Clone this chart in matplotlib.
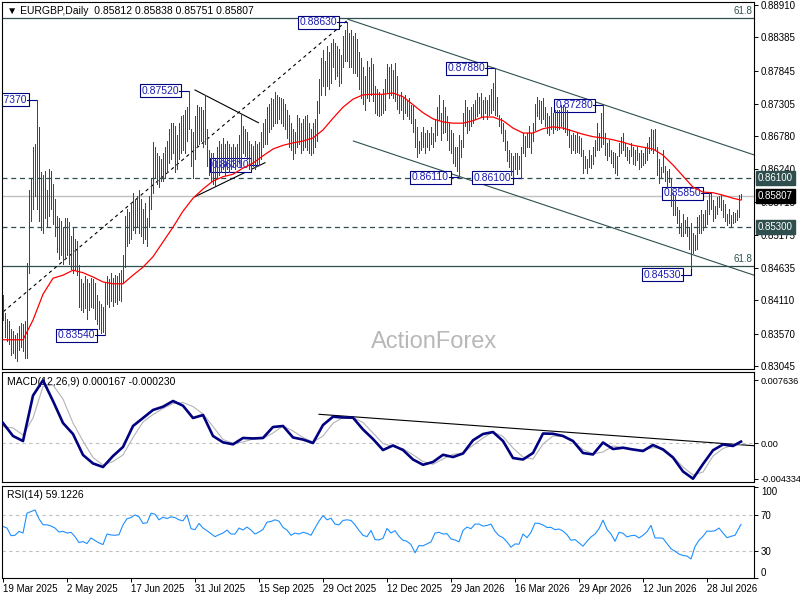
import numpy as np
import matplotlib
matplotlib.use("Agg")
import matplotlib.pyplot as plt

plt.rcParams["font.family"] = ["Liberation Sans", "DejaVu Sans"]

# ---------------- data ----------------
symbol = "EURGBP,Daily"
last_open = 0.85812

highs = [
    .8420, .8390, .8380, .8378, .8365, .8362, .8355, .8358, .8370, .8375,
    .8372, .8378, .8472, .8590, .8610, .8660, .8665, .8737, .8693, .8620,
    .8615, .8622, .8590, .8625, .8622, .8600, .8575, .8548, .8545, .8540,
    .8530, .8545, .8545, .8538, .8515, .8530, .8510, .8508, .8468, .8445,
    .8440, .8450, .8445, .8440, .8448, .8445, .8440, .8420, .8410, .8405,
    .8400, .8440, .8450, .8445, .8455, .8448, .8452, .8450, .8455, .8460,
    .8485, .8548, .8560, .8555, .8570, .8585, .8575, .8580, .8590, .8575,
    .8560, .8570, .8545, .8580, .8610, .8668, .8660, .8650, .8645, .8640,
    .8650, .8660, .8670, .8690, .8700, .8700, .8695, .8680, .8700, .8710,
    .8712, .8720, .8725, .8752, .8690, .8685, .8710, .8728, .8725, .8725,
    .8720, .8745, .8690, .8655, .8650, .8650, .8640, .8660, .8670, .8665,
    .8675, .8665, .8670, .8665, .8660, .8665, .8660, .8665, .8680, .8712,
    .8695, .8690, .8685, .8670, .8665, .8662, .8670, .8665, .8668, .8685,
    .8700, .8705, .8725, .8730, .8740, .8738, .8750, .8745, .8742, .8740,
    .8738, .8730, .8720, .8712, .8700, .8690, .8685, .8712, .8708, .8700,
    .8705, .8710, .8712, .8700, .8690, .8700, .8705, .8735, .8770, .8805,
    .8818, .8800, .8825, .8815, .8830, .8835, .8830, .8825, .8820, .8810,
    .8840, .8850, .8863, .8845, .8850, .8840, .8845, .8835, .8815, .8805,
    .8790, .8775, .8800, .8790, .8805, .8795, .8760, .8755, .8750, .8745,
    .8755, .8770, .8795, .8790, .8795, .8785, .8797, .8775, .8745, .8750,
    .8740, .8745, .8735, .8740, .8728, .8728, .8705, .8692, .8670, .8685,
    .8693, .8683, .8688, .8683, .8693, .8683, .8705, .8726, .8745, .8715,
    .8737, .8725, .8710, .8700, .8688, .8683, .8660, .8660, .8680, .8672,
    .8715, .8737, .8726, .8721, .8726, .8730, .8737, .8748, .8742, .8748,
    .8737, .8742, .8737, .8745, .8755, .8764, .8788, .8742, .8712, .8708,
    .8700, .8688, .8670, .8655, .8650, .8645, .8650, .8650, .8645, .8660,
    .8683, .8678, .8683, .8694, .8683, .8700, .8730, .8742, .8737, .8735,
    .8740, .8725, .8715, .8710, .8726, .8715, .8720, .8721, .8721, .8728,
    .8728, .8725, .8720, .8690, .8680, .8683, .8680, .8683, .8678, .8675,
    .8655, .8645, .8640, .8655, .8648, .8660, .8672, .8700, .8683, .8715,
    .8728, .8683, .8666, .8672, .8655, .8652, .8650, .8645, .8666, .8677,
    .8683, .8666, .8660, .8655, .8666, .8660, .8655, .8660, .8650, .8655,
    .8650, .8658, .8666, .8677, .8690, .8688, .8690, .8660, .8640, .8628,
    .8655, .8630, .8622, .8625, .8610, .8585, .8580, .8563, .8558, .8536,
    .8552, .8541, .8547, .8530, .8536, .8520, .8517, .8547, .8550, .8558,
    .8552, .8558, .8574, .8585, .8585, .8574, .8565, .8579, .8580, .8582,
    .8574, .8568, .8552, .8560, .8550, .8555, .8553, .8558, .8583, .85838,
]
lows = [
    .8379, .8352, .8345, .8340, .8322, .8325, .8318, .8312, .8330, .8335,
    .8328, .8318, .8317, .8455, .8540, .8560, .8580, .8560, .8540, .8525,
    .8520, .8545, .8532, .8548, .8560, .8535, .8515, .8490, .8478, .8485,
    .8470, .8478, .8485, .8470, .8462, .8455, .8460, .8452, .8400, .8395,
    .8392, .8398, .8380, .8395, .8400, .8398, .8380, .8372, .8365, .8358,
    .8360, .8354, .8405, .8400, .8410, .8402, .8408, .8405, .8412, .8410,
    .8440, .8465, .8500, .8505, .8510, .8525, .8520, .8530, .8520, .8515,
    .8505, .8510, .8500, .8530, .8560, .8585, .8610, .8600, .8595, .8605,
    .8605, .8610, .8620, .8635, .8640, .8650, .8620, .8625, .8640, .8650,
    .8655, .8650, .8670, .8690, .8630, .8610, .8640, .8660, .8665, .8670,
    .8660, .8665, .8630, .8615, .8605, .8600, .8598, .8610, .8615, .8620,
    .8625, .8615, .8625, .8620, .8625, .8630, .8625, .8630, .8635, .8630,
    .8650, .8645, .8640, .8625, .8625, .8630, .8625, .8630, .8631, .8640,
    .8660, .8665, .8665, .8685, .8690, .8695, .8700, .8700, .8705, .8700,
    .8695, .8690, .8675, .8660, .8655, .8640, .8650, .8660, .8665, .8650,
    .8655, .8660, .8655, .8650, .8648, .8650, .8660, .8670, .8715, .8745,
    .8760, .8745, .8760, .8755, .8765, .8790, .8770, .8775, .8760, .8765,
    .8790, .8800, .8800, .8790, .8790, .8780, .8780, .8775, .8755, .8740,
    .8730, .8720, .8740, .8735, .8745, .8735, .8715, .8712, .8710, .8712,
    .8715, .8720, .8750, .8740, .8745, .8740, .8735, .8722, .8715, .8720,
    .8705, .8715, .8710, .8705, .8700, .8685, .8660, .8644, .8650, .8655,
    .8660, .8650, .8660, .8655, .8665, .8660, .8670, .8680, .8704, .8672,
    .8683, .8685, .8672, .8655, .8650, .8634, .8630, .8622, .8611, .8644,
    .8660, .8694, .8683, .8688, .8694, .8700, .8705, .8710, .8715, .8710,
    .8705, .8715, .8705, .8712, .8715, .8720, .8712, .8710, .8695, .8683,
    .8670, .8655, .8638, .8628, .8615, .8612, .8625, .8616, .8625, .8610,
    .8650, .8645, .8660, .8660, .8650, .8670, .8688, .8710, .8705, .8700,
    .8705, .8694, .8683, .8680, .8690, .8683, .8690, .8688, .8690, .8695,
    .8690, .8685, .8680, .8660, .8650, .8655, .8650, .8652, .8650, .8645,
    .8618, .8626, .8618, .8628, .8626, .8632, .8645, .8655, .8655, .8660,
    .8665, .8648, .8639, .8645, .8634, .8628, .8618, .8615, .8645, .8650,
    .8655, .8645, .8639, .8634, .8645, .8632, .8631, .8639, .8625, .8628,
    .8631, .8634, .8639, .8650, .8655, .8650, .8655, .8615, .8601, .8610,
    .8620, .8605, .8595, .8603, .8565, .8550, .8550, .8536, .8520, .8515,
    .8515, .8520, .8515, .8495, .8464, .8488, .8493, .8495, .8520, .8520,
    .8525, .8530, .8535, .8552, .8560, .8540, .8545, .8552, .8563, .8558,
    .8547, .8540, .8533, .8536, .8530, .8536, .8538, .8541, .8547, .85751,
]
last_close = 0.85807

# indicator readings: every 5th bar (and the last bar) for MA / MACD
ind_bars = list(range(0, 366, 5)) + [369]
ma_line = [
    .8347, .8347, .8347, .8379, .8421, .8447, .8452, .8460, .8456, .8449,
    .8441, .8438, .8438, .8452, .8465, .8482, .8506, .8530, .8556, .8577,
    .8592, .8605, .8612, .8616, .8626, .8634, .8646, .8657, .8663, .8667,
    .8670, .8675, .8688, .8707, .8725, .8738, .8745, .8746, .8746, .8748,
    .8742, .8729, .8716, .8706, .8701, .8699, .8699, .8703, .8709, .8709,
    .8703, .8691, .8683, .8683, .8690, .8693, .8691, .8686, .8681, .8677,
    .8675, .8672, .8668, .8663, .8660, .8657, .8647, .8631, .8613, .8595,
    .8587, .8586, .8582, .8577, .8574,
]
macd_main = [
    0.00242, 0.00085, 0.00024, 0.00575, 0.00760, 0.00509, 0.00242, 0.00109, -0.00145, -0.00248,
    -0.00291, -0.00158, -0.00048, 0.00206, 0.00303, 0.00400, 0.00440, 0.00509, 0.00452, 0.00303,
    0.00339, 0.00085, 0.00008, -0.00016, 0.00061, 0.00055, 0.00061, 0.00194, 0.00206, 0.00067,
    0.00042, 0.00000, 0.00218, 0.00319, 0.00309, 0.00307, 0.00164, 0.00048, -0.00085, -0.00030,
    -0.00085, -0.00200, -0.00264, -0.00230, -0.00143, -0.00170, -0.00127, 0.00033, 0.00109, 0.00133,
    0.00024, -0.00182, -0.00200, -0.00121, 0.00115, 0.00112, 0.00085, 0.00024, -0.00121, -0.00139,
    0.00006, -0.00073, -0.00057, -0.00079, -0.00097, -0.00024, -0.00079, -0.00176, -0.00345, -0.00433,
    -0.00255, -0.00088, -0.00018, -0.00036, 0.000167,
]
macd_signal = [
    0.00197, 0.00182, 0.00097, 0.00303, 0.00685, 0.00703, 0.00533, 0.00242, 0.00024, -0.00176,
    -0.00267, -0.00224, -0.00145, 0.00067, 0.00255, 0.00345, 0.00418, 0.00479, 0.00491, 0.00442,
    0.00352, 0.00200, 0.00042, -0.00004, 0.00012, 0.00048, 0.00055, 0.00121, 0.00206, 0.00145,
    0.00067, 0.00012, 0.00085, 0.00239, 0.00309, 0.00309, 0.00248, 0.00121, -0.00006, -0.00044,
    -0.00069, -0.00142, -0.00224, -0.00258, -0.00194, -0.00137, -0.00121, -0.00028, 0.00061, 0.00133,
    0.00079, -0.00061, -0.00170, -0.00194, -0.00012, 0.00085, 0.00079, 0.00018, -0.00079, -0.00133,
    -0.00109, -0.00036, -0.00058, -0.00073, -0.00082, -0.00057, -0.00064, -0.00164, -0.00291, -0.00388,
    -0.00352, -0.00158, -0.00067, -0.00024, -0.000230,
]
# RSI: every 2nd bar and the last bar
rsi_bars = list(range(0, 369, 2)) + [369]
rsi14 = [
    56.9, 55.1, 46.7, 47.1, 51.5, 49.6, 71.5, 73.3, 75.1, 65.3,
    58.7, 58.7, 57.3, 55.1, 50.7, 51.5, 49.6, 50.4, 45.6, 39.1,
    40.2, 38.0, 44.2, 41.3, 38.7, 36.9, 48.5, 47.5, 47.1, 47.8,
    58.7, 65.3, 66.7, 69.6, 67.5, 60.2, 60.9, 71.5, 70.4, 64.2,
    67.1, 65.6, 67.5, 66.7, 64.2, 63.1, 69.6, 54.4, 53.3, 60.2,
    55.1, 52.2, 48.9, 45.6, 47.8, 49.6, 52.9, 48.5, 48.5, 55.1,
    52.9, 56.2, 52.9, 48.5, 50.7, 53.6, 61.6, 62.4, 64.2, 62.7,
    55.8, 52.9, 47.1, 49.6, 48.5, 50.4, 49.3, 47.1, 55.1, 62.7,
    68.9, 64.2, 66.0, 59.5, 58.7, 63.5, 64.2, 63.5, 58.7, 52.5,
    47.1, 45.6, 52.5, 42.4, 42.0, 43.8, 54.7, 49.6, 52.2, 46.0,
    41.6, 40.5, 36.9, 27.8, 35.8, 35.5, 37.6, 39.8, 49.6, 50.4,
    48.5, 48.9, 43.1, 42.0, 39.8, 52.5, 56.2, 54.4, 59.5, 59.5,
    57.3, 58.0, 59.5, 51.5, 46.7, 44.5, 39.8, 34.0, 37.6, 37.3,
    48.5, 44.5, 50.4, 60.5, 60.2, 58.4, 55.8, 55.8, 53.3, 54.0,
    51.8, 47.8, 41.6, 42.4, 38.7, 35.1, 40.5, 45.3, 48.5, 54.4,
    63.8, 53.6, 48.5, 40.5, 50.4, 49.3, 45.3, 46.7, 47.1, 44.2,
    47.1, 51.1, 58.0, 44.2, 44.2, 43.8, 38.0, 32.2, 29.6, 26.4,
    24.9, 24.2, 21.0, 34.7, 41.6, 46.0, 51.8, 51.5, 52.2, 55.1,
    49.6, 44.5, 46.0, 47.1, 55.1, 59.1226,
]

date_bars = list(range(0, 353, 32))
date_labels = ["19 Mar 2025", "2 May 2025", "17 Jun 2025", "31 Jul 2025", "15 Sep 2025",
               "29 Oct 2025", "12 Dec 2025", "29 Jan 2026", "16 Mar 2026", "29 Apr 2026",
               "12 Jun 2026", "28 Jul 2026"]
price_ticks = [0.88910, 0.88385, 0.87845, 0.87305, 0.86780, 0.86240,
               0.85715, 0.85175, 0.84635, 0.84110, 0.83570, 0.83045]
macd_ticks = [0.007636, 0.0, -0.004334]
macd_tick_labels = ["0.007636", "0.00", "-0.004334"]
rsi_ticks = [100, 70, 30, 0]

fib_levels = [0.88694, 0.84664]
sr_levels = [0.8610, 0.8530]

swing_bars = [17, 93, 51, 128, 172, 246, 228, 259, 300, 354, 344]
swing_values = [0.87370, 0.87520, 0.83540, 0.86310, 0.88630, 0.87880,
                0.86110, 0.86100, 0.87280, 0.85850, 0.84530]

# hand-drawn objects: (bar, value) end points
channel_top = [(172.5, 0.88678), (376.0, 0.86469)]
channel_bot = [(175.2, 0.86700), (376.0, 0.84514)]
rising_dash = [(0.15, 0.83926), (171.8, 0.88650)]
tri_top = [(96.0, 0.87529), (127.7, 0.86997)]
tri_bot = [(96.0, 0.85795), (131.0, 0.86347)]
macd_trend = [(158.0, 0.00348), (375.5, -0.00033)]

# ---------------- figure ----------------
BAR = "#2f4f4f"
NAVY = "#000080"
LBL = "#1c1cb4"
GREY = "#c0c0c0"
W, H = 800, 600
fig = plt.figure(figsize=(8, 6), dpi=100)


def rect(l, t, r, b):
    return [l / W, 1 - b / H, (r - l) / W, (b - t) / H]


ax_p = fig.add_axes(rect(2, 2, 754, 369))
ax_m = fig.add_axes(rect(2, 372, 754, 482))
ax_r = fig.add_axes(rect(2, 486, 754, 578))

for ax in (ax_p, ax_m, ax_r):
    ax.set_xlim(-0.5, 375.5)
    for s in ax.spines.values():
        s.set_color("black")
        s.set_linewidth(0.8)
    ax.yaxis.tick_right()
    ax.tick_params(axis="y", direction="out", length=3, width=0.7, pad=2, labelsize=7)
    ax.tick_params(axis="x", bottom=False, labelbottom=False)

# --- price panel ---
ax_p.set_ylim(0.82995, 0.88959)
ax_p.set_yticks(price_ticks)
ax_p.set_yticklabels([f"{v:.5f}" for v in price_ticks])

for lv in fib_levels:
    ax_p.axhline(lv, color=BAR, lw=0.9, zorder=1)
    ax_p.text(374.5, lv + 0.0003, "61.8", ha="right", va="bottom", fontsize=7, color=BAR)
for lv in sr_levels:
    ax_p.axhline(lv, color=BAR, lw=0.9, ls=(0, (4, 3)), zorder=1)
ax_p.axhline(last_close, color=GREY, lw=1.0, zorder=1)

for seg, col, ls in [(channel_top, BAR, "-"), (channel_bot, BAR, "-"),
                     (rising_dash, "black", (0, (3, 3))),
                     (tri_top, "black", "-"), (tri_bot, "black", "-")]:
    (x0, y0), (x1, y1) = seg
    ax_p.plot([x0, x1], [y0, y1], color=col, lw=0.8, ls=ls, zorder=1.5)

ax_p.text(0.575, 0.073, "ActionForex", transform=ax_p.transAxes, ha="center", va="center",
          fontsize=17, color="#b8b8b8", zorder=0.5)

# swing labels
for b, v in zip(swing_bars, swing_values):
    ax_p.text(b - 5, v, f"{v:.5f}", ha="right", va="center", fontsize=7.5, color=LBL,
              bbox=dict(boxstyle="square,pad=0.15", fc="white", ec=NAVY, lw=0.8),
              zorder=2, clip_on=True)
    ext = highs[b] if abs(highs[b] - v) < abs(lows[b] - v) else lows[b]
    ax_p.plot([b - 5, b, b], [v, v, ext], color=NAVY, lw=0.8, zorder=2)

# daily bars (high-low strokes)
bars = np.arange(len(highs))
ax_p.vlines(bars, lows, highs, colors=BAR, lw=0.72, antialiased=False, zorder=3)

ax_p.plot(ind_bars, ma_line, color="red", lw=0.9, zorder=4)

title = "\u25bc " + symbol + "  " + " ".join(f"{v:.5f}" for v in
                                              [last_open, highs[-1], lows[-1], last_close])
ax_p.text(5 / 752, 1 - 9 / 367, title, transform=ax_p.transAxes, va="center",
          fontsize=7.5, color="black", zorder=5)

# right-hand price tags
for lv, fc in [(sr_levels[0], BAR), (last_close, "black"), (sr_levels[1], BAR)]:
    ax_p.text(1.005, lv, f"{lv:.5f}", transform=ax_p.get_yaxis_transform(), ha="left",
              va="center", fontsize=7, color="white",
              bbox=dict(boxstyle="square,pad=0.2", fc=fc, ec=fc), zorder=10, clip_on=False)

# --- MACD panel ---
ax_m.set_ylim(-0.004727, 0.008606)
ax_m.set_yticks(macd_ticks)
ax_m.set_yticklabels(macd_tick_labels)
ax_m.tick_params(axis="y", labelsize=6.6, pad=1.5)
ax_m.axhline(0, color=GREY, lw=0.8, ls=(0, (3, 3)), zorder=1)
(x0, y0), (x1, y1) = macd_trend
ax_m.plot([x0, x1], [y0, y1], color="black", lw=0.8, zorder=2)
ax_m.plot(ind_bars, macd_signal, color="#b4b4b4", lw=0.8, zorder=2)
ax_m.plot(ind_bars, macd_main, color=NAVY, lw=1.9, zorder=3)
ax_m.text(5 / 752, 1 - 10 / 110, f"MACD(12,26,9) {macd_main[-1]:.6f} {macd_signal[-1]:.6f}",
          transform=ax_m.transAxes, va="center", fontsize=7.5, zorder=1)

# --- RSI panel ---
ax_r.set_ylim(0, 101.5)
ax_r.set_yticks(rsi_ticks)
ax_r.set_yticklabels([str(v) for v in rsi_ticks])
for t in ax_r.get_yticklabels():
    if t.get_text() == "100":
        t.set_va("top")
    elif t.get_text() == "0":
        t.set_va("bottom")
for lv in (70, 30):
    ax_r.axhline(lv, color=GREY, lw=0.8, ls=(0, (3, 3)), zorder=1)
ax_r.plot(rsi_bars, rsi14, color="#1e90ff", lw=0.8, zorder=2)
ax_r.text(5 / 752, 1 - 9 / 92, f"RSI(14) {rsi14[-1]:.4f}", transform=ax_r.transAxes,
          va="center", fontsize=7.5, zorder=1)

ax_r.tick_params(axis="x", bottom=True, labelbottom=True, direction="out", length=3,
                 width=0.7, pad=1.5, labelsize=7)
ax_r.set_xticks(date_bars)
ax_r.set_xticklabels(date_labels)
for t in ax_r.get_xticklabels():
    t.set_ha("left")

fig.savefig("out.png", dpi=100, facecolor="white")
print("wrote out.png")
